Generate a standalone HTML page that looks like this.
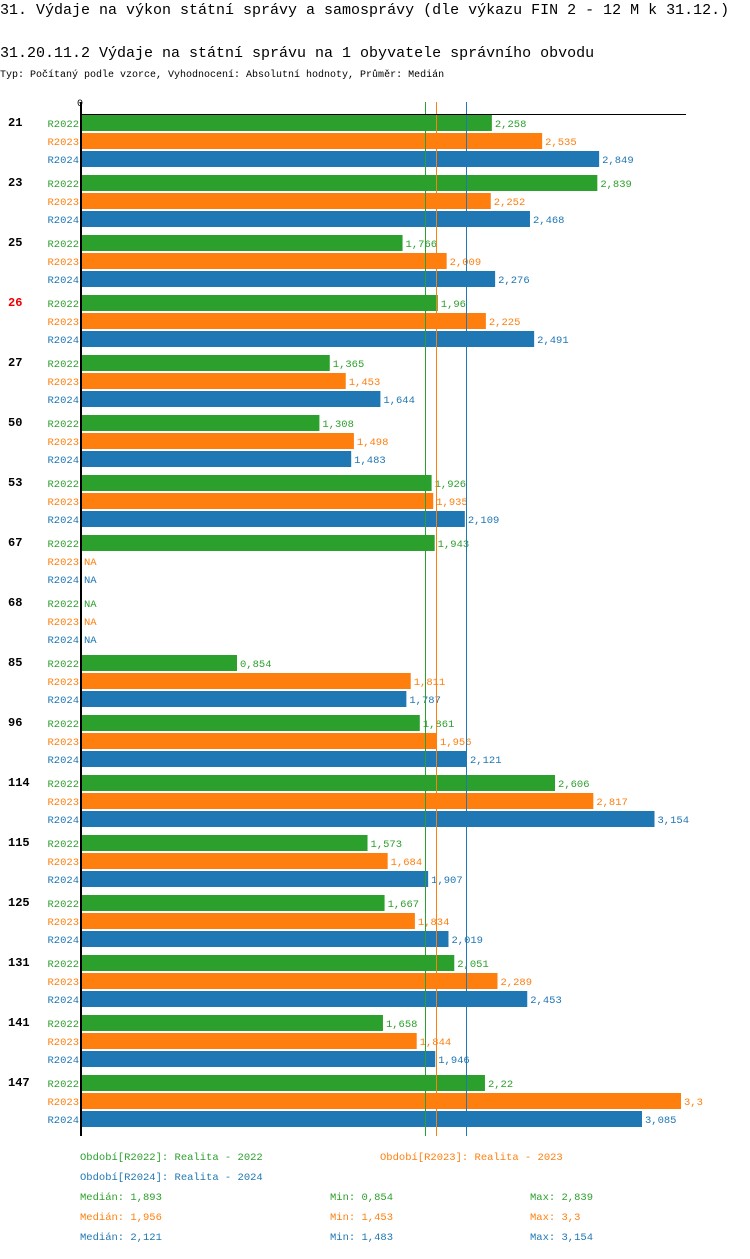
<!DOCTYPE html>
<html><head><meta charset="utf-8"><style>
body{margin:0;background:#fff;}
svg text{font-family:"Liberation Mono",monospace;}
</style></head><body>
<svg width="750" height="1254" xmlns="http://www.w3.org/2000/svg" id="chart">
<text x="0" y="14" font-size="15">31. Výdaje na výkon státní správy a samosprávy (dle výkazu FIN 2 - 12 M k 31.12.)</text>
<text x="0" y="57" font-size="15">31.20.11.2 Výdaje na státní správu na 1 obyvatele správního obvodu</text>
<text x="0" y="77" font-size="10">Typ: Počítaný podle vzorce, Vyhodnocení: Absolutní hodnoty, Průměr: Medián</text>
<g id="plot"></g>
</svg>
<script>
const categories=["21","23","25","26","27","50","53","67","68","85","96","114","115","125","131","141","147"];
const series=["R2022","R2023","R2024"];
const v2022=[2.258,2.839,1.766,1.96,1.365,1.308,1.926,1.943,null,0.854,1.861,2.606,1.573,1.667,2.051,1.658,2.22];
const v2023=[2.535,2.252,2.009,2.225,1.453,1.498,1.935,null,null,1.811,1.956,2.817,1.684,1.834,2.289,1.844,3.3];
const v2024=[2.849,2.468,2.276,2.491,1.644,1.483,2.109,null,null,1.787,2.121,3.154,1.907,2.019,2.453,1.946,3.085];
const medians=[1.893,1.956,2.121];
const mins=[0.854,1.453,1.483];
const maxs=[2.839,3.3,3.154];
const highlight="26";
const colors=["#2ca02c","#ff7f0e","#1f77b4"];
const vals=[v2022,v2023,v2024];
const NS="http://www.w3.org/2000/svg";
const x0=82,xMax=3.3,xEnd=681;
const xs=v=>x0+v*(xEnd-x0)/xMax;
const plotTop=114,gp=60,bp=18;
const plot=document.getElementById('plot');
function mk(t,a,txt){const e=document.createElementNS(NS,t);for(const k in a)e.setAttribute(k,a[k]);if(txt!=null)e.textContent=txt;plot.appendChild(e);return e;}
const fmt=v=>String(v).replace('.',',');
const plotBottom=plotTop+categories.length*gp+2;
categories.forEach((c,i)=>{
  const gy=plotTop+i*gp;
  const gl=mk('text',{x:8,y:gy+12,'font-size':12,'font-weight':'bold',fill:c===highlight?'#e00':'#000'},c);
  
  
  series.forEach((s,j)=>{
    const y=gy+1+j*bp;
    const sl=mk('text',{x:79,y:y+12,'font-size':10.5,'text-anchor':'end',fill:colors[j]},s);
    
    
    const v=vals[j][i];
    if(v==null){
      const na=mk('text',{x:84,y:y+12,'font-size':10.5,fill:colors[j]},'NA');
      
      
    }else{
      const r=mk('rect',{x:x0,y:y,width:xs(v)-x0,height:16,fill:colors[j]});
      
      
      const t=mk('text',{x:xs(v)+3,y:y+12,'font-size':10.5,fill:colors[j]},fmt(v));
      
      
    }
  });
});
medians.forEach((m,j)=>{
  const l=mk('line',{x1:Math.round(xs(m))-0.5,x2:Math.round(xs(m))-0.5,y1:plotTop-12,y2:plotBottom,stroke:colors[j],'stroke-width':1});
  
  
});
const ax=mk('line',{x1:80,x2:686,y1:plotTop+0.5,y2:plotTop+0.5,stroke:'#000','stroke-width':1});


const ay=mk('line',{x1:81,x2:81,y1:plotTop-12,y2:plotBottom,stroke:'#000','stroke-width':2});


const z=mk('text',{x:80,y:106,'font-size':10,'text-anchor':'middle'},'0');


const leg=[[80,1160,0,'Období[R2022]: Realita - 2022'],[380,1160,1,'Období[R2023]: Realita - 2023'],[80,1180,2,'Období[R2024]: Realita - 2024']];
leg.forEach(L=>{
  const t=mk('text',{x:L[0],y:L[1],'font-size':10.5,fill:colors[L[2]]},L[3]);
  
  
});
series.forEach((s,j)=>{
  const y=1200+j*20;
  const a=mk('text',{x:80,y:y,'font-size':10.5,fill:colors[j]},'Medián: '+fmt(medians[j]));
  
  
  const b=mk('text',{x:330,y:y,'font-size':10.5,fill:colors[j]},'Min: '+fmt(mins[j]));
  
  
  const d=mk('text',{x:530,y:y,'font-size':10.5,fill:colors[j]},'Max: '+fmt(maxs[j]));
  
  
});
</script>
</body></html>
